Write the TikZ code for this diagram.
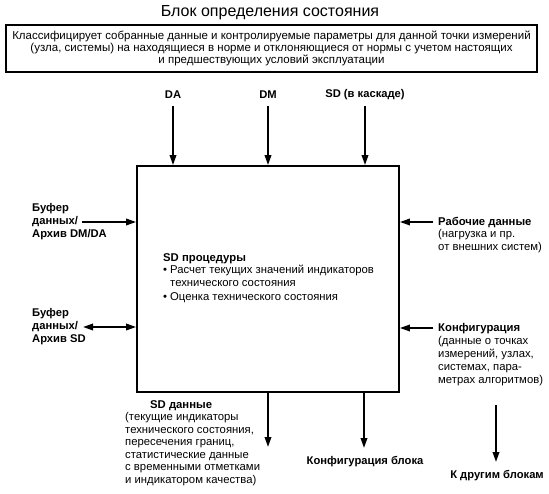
\documentclass[tikz,border=0pt]{standalone}
\usepackage{fontspec}
\setmainfont{Liberation Sans}
\usetikzlibrary{arrows.meta}
\begin{document}
\begin{tikzpicture}[x=1pt,y=-1pt,
  box/.style={draw, line width=1.8pt, inner sep=0pt},
  arr/.style={-{Triangle[length=10pt,width=6.5pt]}, line width=1.8pt},
  darr/.style={{Triangle[length=10pt,width=6.5pt]}-{Triangle[length=10pt,width=6.5pt]}, line width=1.8pt},
  lbl/.style={font=\fontsize{11.2}{13}\selectfont\bfseries, inner sep=0pt, align=left},
  txt/.style={font=\fontsize{11.3}{12.5}\selectfont, inner sep=0pt, align=left},
]
\useasboundingbox (0,0) rectangle (549,494);

\node[font=\fontsize{16}{18}\selectfont, inner sep=0pt] (title) at (270,13) {Блок определения состояния};
\node[box, minimum width=531pt, minimum height=47pt, align=center,
      font=\fontsize{11.5}{12}\selectfont] (desc) at (271.5,48.5)
  {Классифицирует собранные данные и контролируемые параметры для данной точки измерений\\
   (узла, системы) на находящиеся в норме и отклоняющиеся от нормы с учетом настоящих\\
   и предшествующих условий эксплуатации};

\node[box, minimum width=262pt, minimum height=226pt] (blk) at (268,279) {};

% top inputs
\node[lbl] (da) at (173,95) {DA};
\node[lbl] (dm) at (268,95) {DM};
\node[lbl] (sdk) at (365,95) {SD (в каскаде)};
\draw[arr, shorten <=7pt] (da.south) -- (da.south |- blk.north);
\draw[arr, shorten <=7pt] (dm.south) -- (dm.south |- blk.north);
\draw[arr, shorten <=6pt] (sdk.south) -- (sdk.south |- blk.north);

% left
\node[lbl, anchor=north west] (buf1) at (32,203) {Буфер\\данных/\\Архив DM/DA};
\coordinate (b1) at (82,222);
\draw[arr] (b1) -- (b1 -| blk.west);
\node[lbl, anchor=north west] (buf2) at (32,308) {Буфер\\данных/\\Архив SD};
\coordinate (b2) at (83,327);
\draw[darr] (b2) -- (b2 -| blk.west);

% right
\node[txt, anchor=north west] (work) at (438,217) {\textbf{Рабочие данные}\\(нагрузка и пр.\\от внешних систем)};
\coordinate (r1) at (433,222);
\draw[arr] (r1) -- (r1 -| blk.east);
\node[txt, anchor=north west, font=\fontsize{11.3}{13}\selectfont] (conf) at (438,323)
  {\textbf{Конфигурация}\\(данные о точках\\измерений, узлах,\\системах, пара-\\метрах алгоритмов)};
\coordinate (r2) at (433,328);
\draw[arr] (r2) -- (r2 -| blk.east);

% inside
\node[txt, anchor=north west] (proc) at (163,253)
  {\textbf{SD процедуры}\\
   \makebox[7pt][l]{\textbullet}Расчет текущих значений индикаторов\\
   \hspace*{7pt}технического состояния\\[2pt]
   \makebox[7pt][l]{\textbullet}Оценка технического состояния};

% bottom outputs
\coordinate (o1) at (268,447);
\coordinate (o2) at (364,448);
\draw[arr] (o1 |- blk.south) -- (o1);
\draw[arr] (o2 |- blk.south) -- (o2);
\node[txt, anchor=north west] (sdd) at (125,400)
  {\hspace*{25pt}\textbf{SD данные}\\(текущие индикаторы\\технического состояния,\\пересечения границ,\\статистические данные\\с временными отметками\\и индикатором качества)};
\node[lbl, anchor=base] (cb) at (365,464) {Конфигурация блока};
\node[lbl, anchor=base] (kdb) at (497,478) {К другим блокам};
\coordinate (k) at (496,405);
\draw[arr] (k) -- (k |- 0,462);
\end{tikzpicture}
\end{document}
